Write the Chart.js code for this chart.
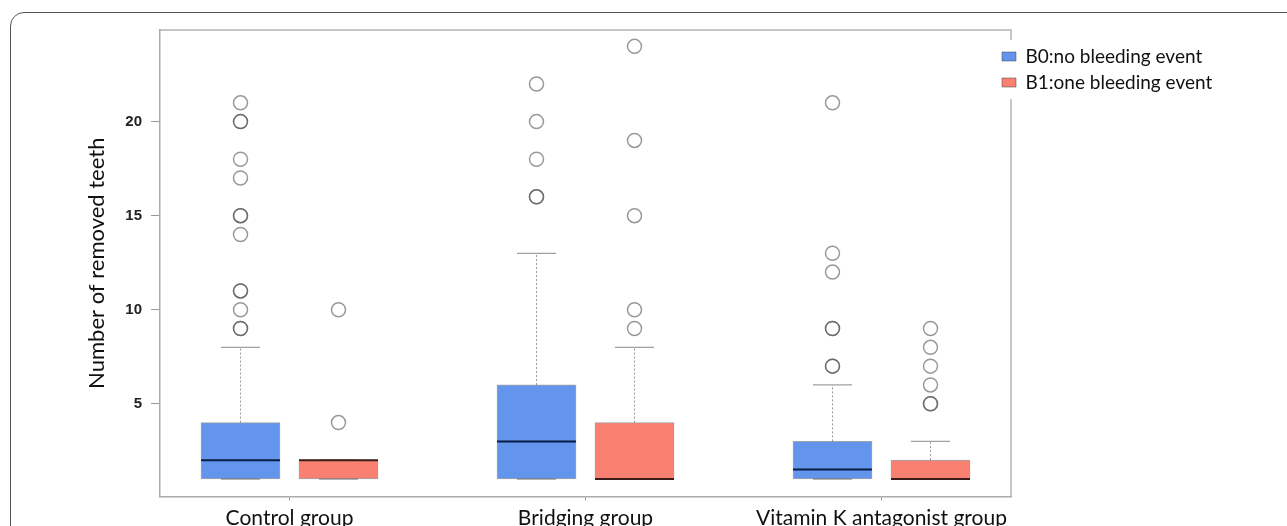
<!DOCTYPE html>
<html>
<head>
<meta charset="utf-8">
<script src="https://cdn.jsdelivr.net/npm/chart.js@4.4.1/dist/chart.umd.min.js"></script>
<style>
    html, body { margin: 0; padding: 0; background: #fff; overflow: hidden; }
    .page { position: relative; width: 1287px; height: 526px; overflow: hidden; }
    .frame { position: absolute; left: 10px; top: 12px; width: 1300px; height: 560px;
             border: 1.5px solid #555; border-radius: 14px; box-sizing: border-box; }
    .holder { position: absolute; left: 0; top: 0; width: 1287px; height: 540px; }
</style>
</head>
<body>
<div class="page">
    <div class="frame"></div>
    <div class="holder"><canvas id="myChart"></canvas></div>
</div>
<script>
        // Chart values
        const categories = ["Control group", "Bridging group", "Vitamin K antagonist group"];
        const seriesLabels = ["B0:no bleeding event", "B1:one bleeding event"];
        const yTicks = [5, 10, 15, 20];

        // B0 box stats per group
        const b0Min = [1, 1, 1];
        const b0Q1 = [1, 1, 1];
        const b0Median = [2, 3, 1.5];
        const b0Q3 = [4, 6, 3];
        const b0Max = [8, 13, 6];
        const b0Outliers = [
            [9, 9, 10, 11, 11, 14, 15, 15, 17, 18, 20, 20, 21],
            [16, 16, 18, 20, 22],
            [7, 7, 9, 9, 12, 13, 21]
        ];

        // B1 box stats per group
        const b1Min = [1, 1, 1];
        const b1Q1 = [1, 1, 1];
        const b1Median = [2, 1, 1];
        const b1Q3 = [2, 4, 2];
        const b1Max = [2, 8, 3];
        const b1Outliers = [
            [4, 10],
            [9, 10, 15, 19, 24],
            [5, 5, 6, 7, 8, 9]
        ];

        const fillColors = ["#6495ed", "#fa8072"];
        const medianColors = ["#0b1c44", "#3a1d19"];

        // geometry in x-axis units (one group = 1 unit)
        const groupX = categories.map((c, i) => i + 1);
        const sideShift = 49 / 296;
        const medianHalf = 39.5 / 296;
        const capHalf = 19.5 / 296;

        const series = [
            { min: b0Min, q1: b0Q1, med: b0Median, q3: b0Q3, max: b0Max, out: b0Outliers, shift: -sideShift },
            { min: b1Min, q1: b1Q1, med: b1Median, q3: b1Q3, max: b1Max, out: b1Outliers, shift: sideShift }
        ];

        function segment(list, x0, x1, y0, y1) {
            list.push({ x: x0, y: y0 }, { x: x1, y: y1 }, { x: x1, y: null });
        }

        let whiskerPts = [], capPts = [];
        series.forEach(s => {
            groupX.forEach((g, i) => {
                let xc = g + s.shift;
                if (s.max[i] > s.q3[i]) segment(whiskerPts, xc, xc, s.q3[i], s.max[i]);
                if (s.min[i] < s.q1[i]) segment(whiskerPts, xc, xc, s.min[i], s.q1[i]);
                segment(capPts, xc - capHalf, xc + capHalf, s.max[i], s.max[i]);
                segment(capPts, xc - capHalf, xc + capHalf, s.min[i], s.min[i]);
            });
        });

        let datasets = [];

        // boxes as floating bars
        series.forEach((s, k) => {
            datasets.push({
                type: 'bar',
                label: seriesLabels[k],
                data: groupX.map((g, i) => ({ x: g + s.shift, y: [s.q1[i], s.q3[i]] })),
                backgroundColor: fillColors[k],
                borderColor: 'rgba(70, 70, 80, 0.5)',
                borderWidth: 1,
                borderSkipped: false,
                barThickness: 79,
                grouped: false,
                order: 2
            });
        });

        // medians
        series.forEach((s, k) => {
            let pts = [];
            groupX.forEach((g, i) => {
                let xc = g + s.shift;
                segment(pts, xc - medianHalf, xc + medianHalf, s.med[i], s.med[i]);
            });
            datasets.push({
                type: 'line', label: 'median', data: pts,
                borderColor: medianColors[k], borderWidth: 2,
                pointRadius: 0, spanGaps: false, fill: false, order: 1
            });
        });

        // whiskers and caps
        datasets.push({
            type: 'line', label: 'whisker', data: whiskerPts,
            borderColor: '#9a9a9a', borderWidth: 1, borderDash: [2, 2],
            pointRadius: 0, spanGaps: false, fill: false, order: 3
        });
        datasets.push({
            type: 'line', label: 'cap', data: capPts,
            borderColor: '#a0a0a0', borderWidth: 1.3,
            pointRadius: 0, spanGaps: false, fill: false, order: 3
        });

        // outliers
        series.forEach((s, k) => {
            let pts = [];
            groupX.forEach((g, i) => {
                s.out[i].forEach(v => pts.push({ x: g + s.shift, y: v }));
            });
            datasets.push({
                type: 'scatter', label: 'outliers', data: pts,
                pointRadius: 7, pointHoverRadius: 7, pointStyle: 'circle',
                backgroundColor: 'rgba(0,0,0,0)',
                borderColor: 'rgba(70, 70, 70, 0.55)', borderWidth: 1.5,
                showLine: false, order: 0
            });
        });

        // light frame round the plot area, broken where the legend sits on it
        const plotFrame = {
            id: 'plotFrame',
            beforeDatasetsDraw(chart) {
                const { ctx, chartArea: a, legend: lg } = chart;
                const gapTop = lg.top;
                const gapBottom = lg.top + lg.columnSizes[0].height + lg.options.labels.padding;
                ctx.save();
                ctx.strokeStyle = '#b4b4b4';
                ctx.lineWidth = 1.5;
                ctx.beginPath();
                ctx.moveTo(a.left, a.top);
                ctx.lineTo(a.right, a.top);
                ctx.lineTo(a.right, gapTop);
                ctx.moveTo(a.right, gapBottom);
                ctx.lineTo(a.right, a.bottom);
                ctx.stroke();
                ctx.restore();
            }
        };

        // pull the legend over the plot's right edge like the original
        const legendNudge = {
            id: 'legendNudge',
            afterLayout(chart) {
                const lg = chart.legend;
                lg.left -= 16;
                lg.right = chart.width;
                lg.width = lg.right - lg.left;
                lg.top += 10;
            }
        };

        const ctx = document.getElementById('myChart').getContext('2d');
        const myChart = new Chart(ctx, {
            type: 'bar',
            data: { datasets: datasets },
            plugins: [plotFrame, legendNudge],
            options: {
                responsive: true,
                maintainAspectRatio: false,
                animation: false,
                layout: { padding: { left: 0, top: 30, right: 76, bottom: 0 } },
                plugins: {
                    tooltip: { enabled: false },
                    legend: {
                        position: 'right',
                        align: 'start',
                        maxWidth: 200,
                        labels: {
                            boxWidth: 14,
                            boxHeight: 9,
                            padding: 7,
                            color: '#111',
                            font: { family: 'Lato', size: 19 },
                            filter: item => item.datasetIndex < 2
                        }
                    }
                },
                scales: {
                    x: {
                        type: 'linear',
                        min: 0.5625,
                        max: 3.4375,
                        offset: false,
                        afterBuildTicks: s => { s.ticks = groupX.map(v => ({ value: v })); },
                        afterFit: s => { s.height = 43.5; },
                        grid: { drawOnChartArea: false, offset: false, tickLength: 4, color: '#999' },
                        border: { color: '#aaa', width: 1.5 },
                        ticks: {
                            callback: v => categories[v - 1],
                            color: '#111',
                            font: { family: 'Lato', size: 21 },
                            padding: 5,
                            autoSkip: false,
                            maxRotation: 0
                        }
                    },
                    y: {
                        min: 0.07,
                        max: 24.87,
                        afterBuildTicks: s => { s.ticks = yTicks.map(v => ({ value: v })); },
                        afterFit: s => { s.width = 160; },
                        grid: { drawOnChartArea: false, tickLength: 9, color: '#999' },
                        border: { color: '#aaa', width: 1.5 },
                        ticks: {
                            color: '#222',
                            font: { family: 'Liberation Sans', size: 15, weight: 'bold' },
                            padding: 9
                        },
                        title: {
                            display: true,
                            text: 'Number of removed teeth',
                            color: '#111',
                            font: { family: 'Lato', size: 22 },
                            padding: { top: 84, bottom: 0 }
                        }
                    }
                }
            }
        });
</script>
</body>
</html>
